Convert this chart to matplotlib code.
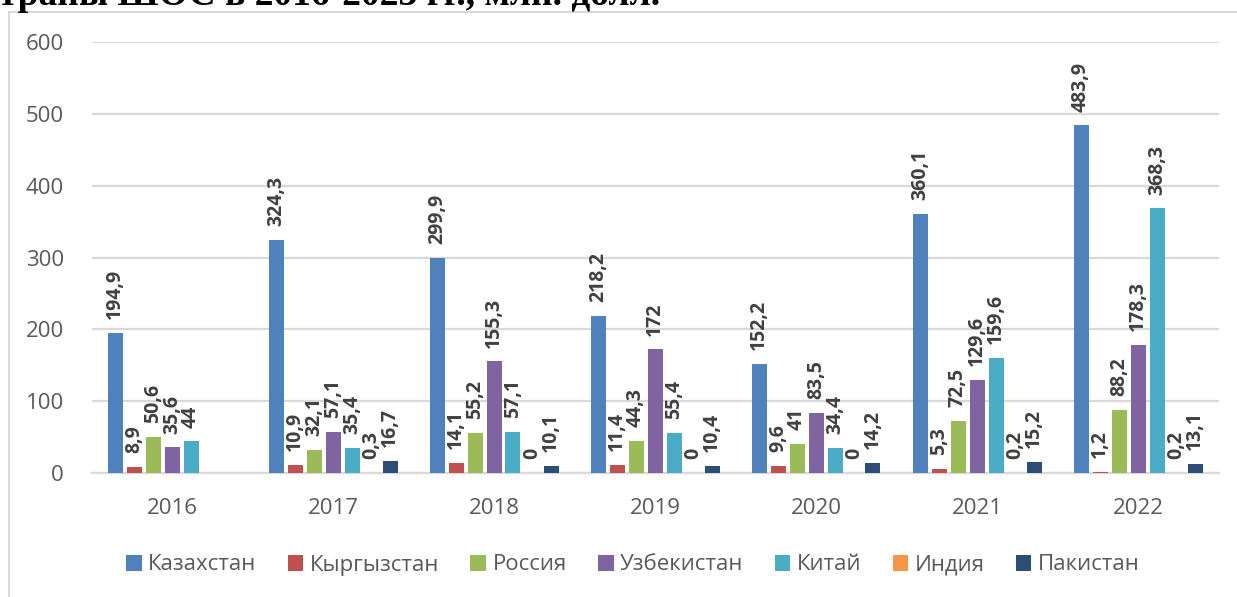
import matplotlib
matplotlib.use("Agg")
import matplotlib.pyplot as plt
from matplotlib.patches import Rectangle
import numpy as np

years = ["2016", "2017", "2018", "2019", "2020", "2021", "2022"]
countries = ["Казахстан", "Кыргызстан", "Россия", "Узбекистан", "Китай", "Индия", "Пакистан"]
kazakhstan = [194.9, 324.3, 299.9, 218.2, 152.2, 360.1, 483.9]
kyrgyzstan = [8.9, 10.9, 14.1, 11.4, 9.6, 5.3, 1.2]
russia = [50.6, 32.1, 55.2, 44.3, 41, 72.5, 88.2]
uzbekistan = [35.6, 57.1, 155.3, 172, 83.5, 129.6, 178.3]
china = [44, 35.4, 57.1, 55.4, 34.4, 159.6, 368.3]
india = [None, 0.3, 0, 0, 0, 0.2, 0.2]
pakistan = [None, 16.7, 10.1, 10.4, 14.2, 15.2, 13.1]
series = [kazakhstan, kyrgyzstan, russia, uzbekistan, china, india, pakistan]
colors = ["#4F81BD", "#C0504D", "#9BBB59", "#8064A2", "#4BACC6", "#F79646", "#2C4D75"]

FONT = ["Open Sans", "DejaVu Sans"]
plt.rcParams["font.family"] = FONT

W, H = 1237, 597
fig = plt.figure(figsize=(W / 100, H / 100), dpi=100)
ax = fig.add_axes([91.5 / W, 1 - 473 / H, (1218.5 - 91.5) / W, (473 - 42) / H])

# outer chart frame (only left and top edges visible)
fig.add_artist(Rectangle((9 / W, -0.1), 1.2, 1 - 12 / H + 0.1, transform=fig.transFigure,
                         fill=False, edgecolor="#D9D9D9", linewidth=1.5, clip_on=False))

# cut-off title from the source document
fig.text(660 / W, 1 - 5 / H, "страны ШОС в 2016-2023 гг., млн. долл.", family="Liberation Serif",
         fontweight="bold", fontsize=27, ha="right", va="baseline", color="black")


def fmt(v):
    if float(v).is_integer():
        return str(int(v))
    return f"{v:.1f}".replace(".", ",")


x = np.arange(len(years))
step = 19 / 161
width = 15 / 161
for i, (name, vals, c) in enumerate(zip(countries, series, colors)):
    xs = x + (i - 3) * step
    h = [np.nan if v is None else v for v in vals]
    ax.bar(xs, h, width=width, color=c, label=name, zorder=3)
    for xi, v in zip(xs, vals):
        if v is None:
            continue
        ax.annotate(fmt(v), (xi, v), xytext=(0, 10), textcoords="offset points",
                    rotation=90, ha="center", va="bottom", fontsize=14,
                    fontweight="bold", color="#404040", zorder=4)

ax.set_xlim(-0.5, len(years) - 0.5)
ax.set_ylim(0, 600)
ax.set_yticks(range(0, 601, 100))
ax.set_xticks(x)
ax.set_xticklabels(years)
ax.tick_params(axis="both", length=0, labelsize=16, labelcolor="#595959")
ax.tick_params(axis="y", pad=20)
ax.tick_params(axis="x", pad=18)
ax.grid(axis="y", color="#D9D9D9", linewidth=1.6, zorder=0)
for s in ["top", "right", "left"]:
    ax.spines[s].set_visible(False)
ax.spines["bottom"].set_color("#D9D9D9")
ax.spines["bottom"].set_linewidth(1.6)

fig.legend(loc="center", bbox_to_anchor=(633 / W, 1 - 565 / H), ncol=7, frameon=False,
           fontsize=16, handlelength=0.7, handleheight=0.7, handletextpad=0.3,
           columnspacing=1.4, labelcolor="#595959")

fig.savefig("out.png", dpi=100)
